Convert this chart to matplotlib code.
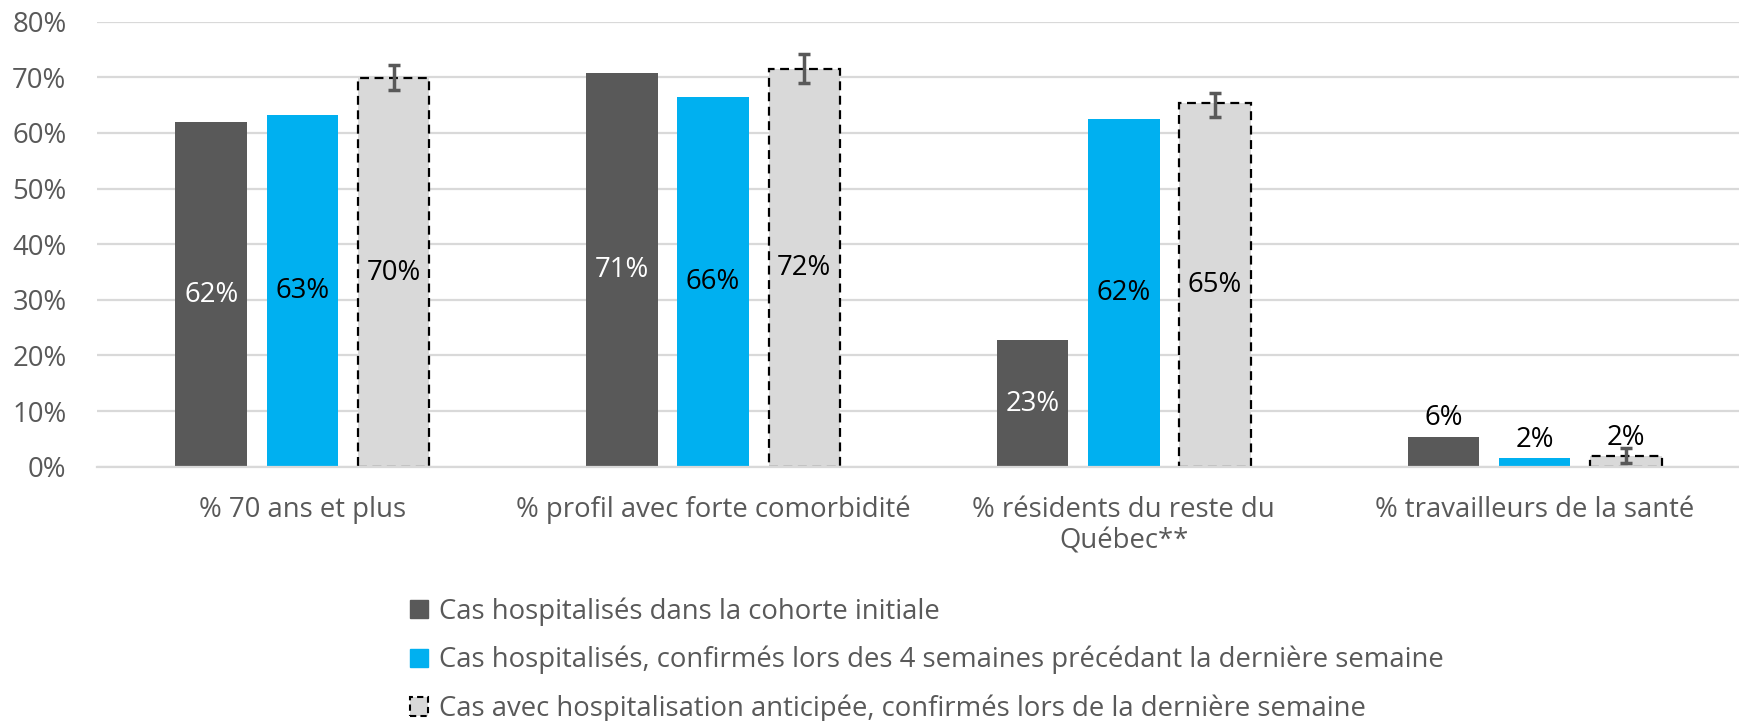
import matplotlib
matplotlib.use("Agg")
import matplotlib.pyplot as plt
from matplotlib.patches import Patch
import numpy as np

plt.rcParams['font.family'] = ['Open Sans', 'DejaVu Sans']

categories = ["% 70 ans et plus", "% profil avec forte comorbidité",
              "% résidents du reste du\nQuébec**", "% travailleurs de la santé"]
series_names = ["Cas hospitalisés dans la cohorte initiale",
                "Cas hospitalisés, confirmés lors des 4 semaines précédant la dernière semaine",
                "Cas avec hospitalisation anticipée, confirmés lors de la dernière semaine"]
initiale = [61.9, 70.7, 22.7, 5.4]
quatre_sem = [63.2, 66.4, 62.5, 1.6]
anticipee = [69.8, 71.5, 65.3, 1.9]
err_low = [67.8, 68.9, 62.8, 0.7]
err_high = [72.2, 74.2, 67.2, 3.3]
labels_initiale = ["62%", "71%", "23%", "6%"]
labels_quatre = ["63%", "66%", "62%", "2%"]
labels_anticipee = ["70%", "72%", "65%", "2%"]
yticks = [0, 10, 20, 30, 40, 50, 60, 70, 80]

DARK = "#595959"
BLUE = "#00B0F0"
LGRAY = "#D9D9D9"
TXT = "#595959"
FS = 19.8

fig = plt.figure(figsize=(17.4, 7.21), dpi=100)
ax = fig.add_axes([97/1740, 1-466.7/721, 1-97/1740, (466.7-21.7)/721])

x = np.arange(len(categories))
w = 0.174
off = 0.222

b1 = ax.bar(x - off, initiale, w, color=DARK, zorder=2)
b2 = ax.bar(x, quatre_sem, w, color=BLUE, zorder=2)
b3 = ax.bar(x + off, anticipee, w, color=LGRAY, edgecolor="black",
            linestyle=(0, (4, 2.5)), linewidth=1.6, zorder=2)

yerr = np.array([np.array(anticipee) - np.array(err_low),
                 np.array(err_high) - np.array(anticipee)])
ax.errorbar(x + off, anticipee, yerr=yerr, fmt="none", ecolor=DARK,
            elinewidth=2.5, capsize=4.3, capthick=2.5, zorder=4)

ax.set_xlim(-0.5, 3.5)
ax.set_ylim(0, 80)
ax.set_yticks(yticks)
ax.set_yticklabels([f"{v}%" for v in yticks])
ax.set_xticks(x)
ax.set_xticklabels(categories, linespacing=1.15)
ax.tick_params(axis="y", length=0, pad=22, labelsize=FS, labelcolor=TXT)
ax.tick_params(axis="x", length=0, pad=21, labelsize=FS, labelcolor=TXT)
for s in ["top", "right", "left"]:
    ax.spines[s].set_visible(False)
ax.spines["bottom"].set_color(LGRAY)
ax.spines["bottom"].set_linewidth(1.6)
ax.spines["bottom"].set_zorder(5)
ax.yaxis.grid(True, color=LGRAY, linewidth=1.6, zorder=0)
ax.set_axisbelow(True)

def label_bars(bars, vals, labels, color_inside):
    for i, (bar, v, lab) in enumerate(zip(bars, vals, labels)):
        cx = bar.get_x() + bar.get_width() / 2
        if i < 3:
            ax.text(cx, v / 2, lab, ha="center", va="center",
                    fontsize=FS, color=color_inside, zorder=6)
        else:
            ax.annotate(lab, (cx, v), xytext=(0, 3), textcoords="offset points",
                        ha="center", va="bottom", fontsize=FS, color="black", zorder=6)

label_bars(b1, initiale, labels_initiale, "white")
label_bars(b2, quatre_sem, labels_quatre, "black")
label_bars(b3, anticipee, labels_anticipee, "black")

handles = [Patch(facecolor=DARK, edgecolor=DARK),
           Patch(facecolor=BLUE, edgecolor=BLUE),
           Patch(facecolor=LGRAY, edgecolor="black", linestyle=(0, (3, 2)), linewidth=1.5)]
leg = fig.legend(handles, series_names, loc="upper left",
                 bbox_to_anchor=(410/1740, 1-597/721), frameon=False,
                 fontsize=FS, labelcolor=TXT, handlelength=0.65, handleheight=0.65,
                 handletextpad=0.4, labelspacing=0.74, borderpad=0, borderaxespad=0)

fig.savefig("out.png", dpi=100)
